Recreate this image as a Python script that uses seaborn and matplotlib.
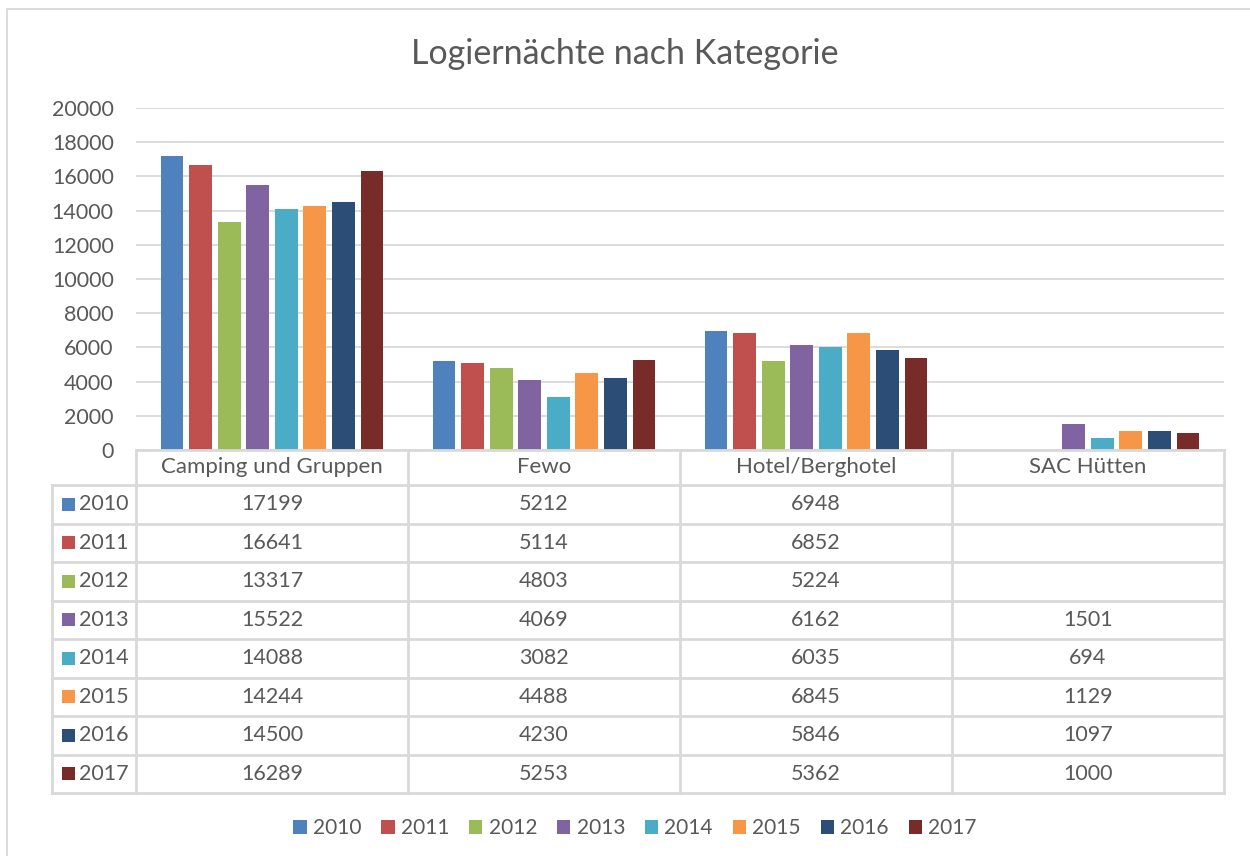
import numpy as np
import pandas as pd
import seaborn as sns
import matplotlib.pyplot as plt
from matplotlib.patches import Patch, Rectangle

categories = ["Camping und Gruppen", "Fewo", "Hotel/Berghotel", "SAC Hütten"]
years = ["2010", "2011", "2012", "2013", "2014", "2015", "2016", "2017"]
camping = [17199, 16641, 13317, 15522, 14088, 14244, 14500, 16289]
fewo = [5212, 5114, 4803, 4069, 3082, 4488, 4230, 5253]
hotel = [6948, 6852, 5224, 6162, 6035, 6845, 5846, 5362]
sac = [np.nan, np.nan, np.nan, 1501, 694, 1129, 1097, 1000]
colors = ["#4F81BD", "#C0504D", "#9BBB59", "#8064A2",
          "#4BACC6", "#F79646", "#2C4D75", "#772C2A"]

series = [camping, fewo, hotel, sac]
rows = []
for cat, vals in zip(categories, series):
    for yr, v in zip(years, vals):
        rows.append({"Kategorie": cat, "Jahr": yr, "Wert": v})
df = pd.DataFrame(rows)

sns.set_theme(style="white")
plt.rcParams["font.family"] = ["Lato", "DejaVu Sans"]
txt = "#595959"
line_c = "#D9D9D9"
fs = 15.5

W, H = 1250, 856
fig = plt.figure(figsize=(W / 100, H / 100), dpi=100)
fig.patch.set_facecolor("white")


def px(x0, y0, x1, y1):
    return [x0 / W, 1 - y1 / H, (x1 - x0) / W, (y1 - y0) / H]


# bars
ax = fig.add_axes(px(136, 108, 1224, 450))
sns.barplot(data=df.dropna(), x="Kategorie", y="Wert", hue="Jahr",
            order=categories, hue_order=years, palette=colors,
            saturation=1, width=0.84, gap=0.2, linewidth=0,
            legend=False, ax=ax)
ax.set_xlim(-0.5, len(categories) - 0.5)
ax.set_ylim(0, 20000)
ax.set_yticks(range(0, 20001, 2000))
ax.tick_params(axis="y", labelsize=fs, colors=txt, length=0, pad=16)
ax.set_xticks([])
ax.set_xlabel("")
ax.set_ylabel("")
ax.grid(axis="y", color=line_c, linewidth=1.3)
ax.set_axisbelow(True)
for s in ax.spines.values():
    s.set_visible(False)

# data table
first_w = 84 / 272
h0 = 35 / 38.5
tax = fig.add_axes(px(52, 450, 1224, 793))
xmin = -0.5 - first_w
tax.set_xlim(xmin, len(categories) - 0.5)
tax.set_ylim(len(years), -h0)
tax.axis("off")
lk = dict(color=line_c, linewidth=2, clip_on=False, solid_capstyle="projecting")
tax.plot([-0.5, len(categories) - 0.5], [-h0, -h0], **lk)
for r in range(len(years) + 1):
    tax.plot([xmin, len(categories) - 0.5], [r, r], **lk)
for c in range(len(categories) + 1):
    tax.plot([c - 0.5, c - 0.5], [-h0, len(years)], **lk)
tax.plot([xmin, xmin], [0, len(years)], **lk)

for j, cat in enumerate(categories):
    tax.text(j, -h0 / 2, cat, ha="center", va="center", fontsize=fs + 0.5, color=txt)
for i, (yr, col) in enumerate(zip(years, colors)):
    tax.add_patch(Rectangle((xmin + 10 / 272, i + 0.5 - 6.5 / 38.5), 13 / 272, 13 / 38.5,
                            color=col, linewidth=0))
    tax.text(xmin + 27 / 272, i + 0.5, yr, ha="left", va="center", fontsize=fs, color=txt)
    for j, vals in enumerate(series):
        v = vals[i]
        if not np.isnan(v):
            tax.text(j, i + 0.5, f"{int(v)}", ha="center", va="center",
                     fontsize=fs, color=txt)

# title, legend, border
fig.text(0.5, 1 - 54 / H, "Logiernächte nach Kategorie", ha="center", va="center",
         fontsize=24.5, color=txt)
handles = [Patch(facecolor=c, edgecolor="none", label=y) for y, c in zip(years, colors)]
fig.legend(handles=handles, loc="center", bbox_to_anchor=(0.508, 1 - 828 / H), ncol=8,
           frameon=False, fontsize=15, handlelength=0.64, handleheight=0.64,
           handletextpad=0.3, columnspacing=0.95, labelcolor=txt)
fig.add_artist(Rectangle((7 / W, -0.1), 1.1, 1 - 9 / H + 0.1, transform=fig.transFigure,
                         fill=False, edgecolor=line_c, linewidth=1.3))

fig.savefig("out.png", dpi=100, facecolor="white")
